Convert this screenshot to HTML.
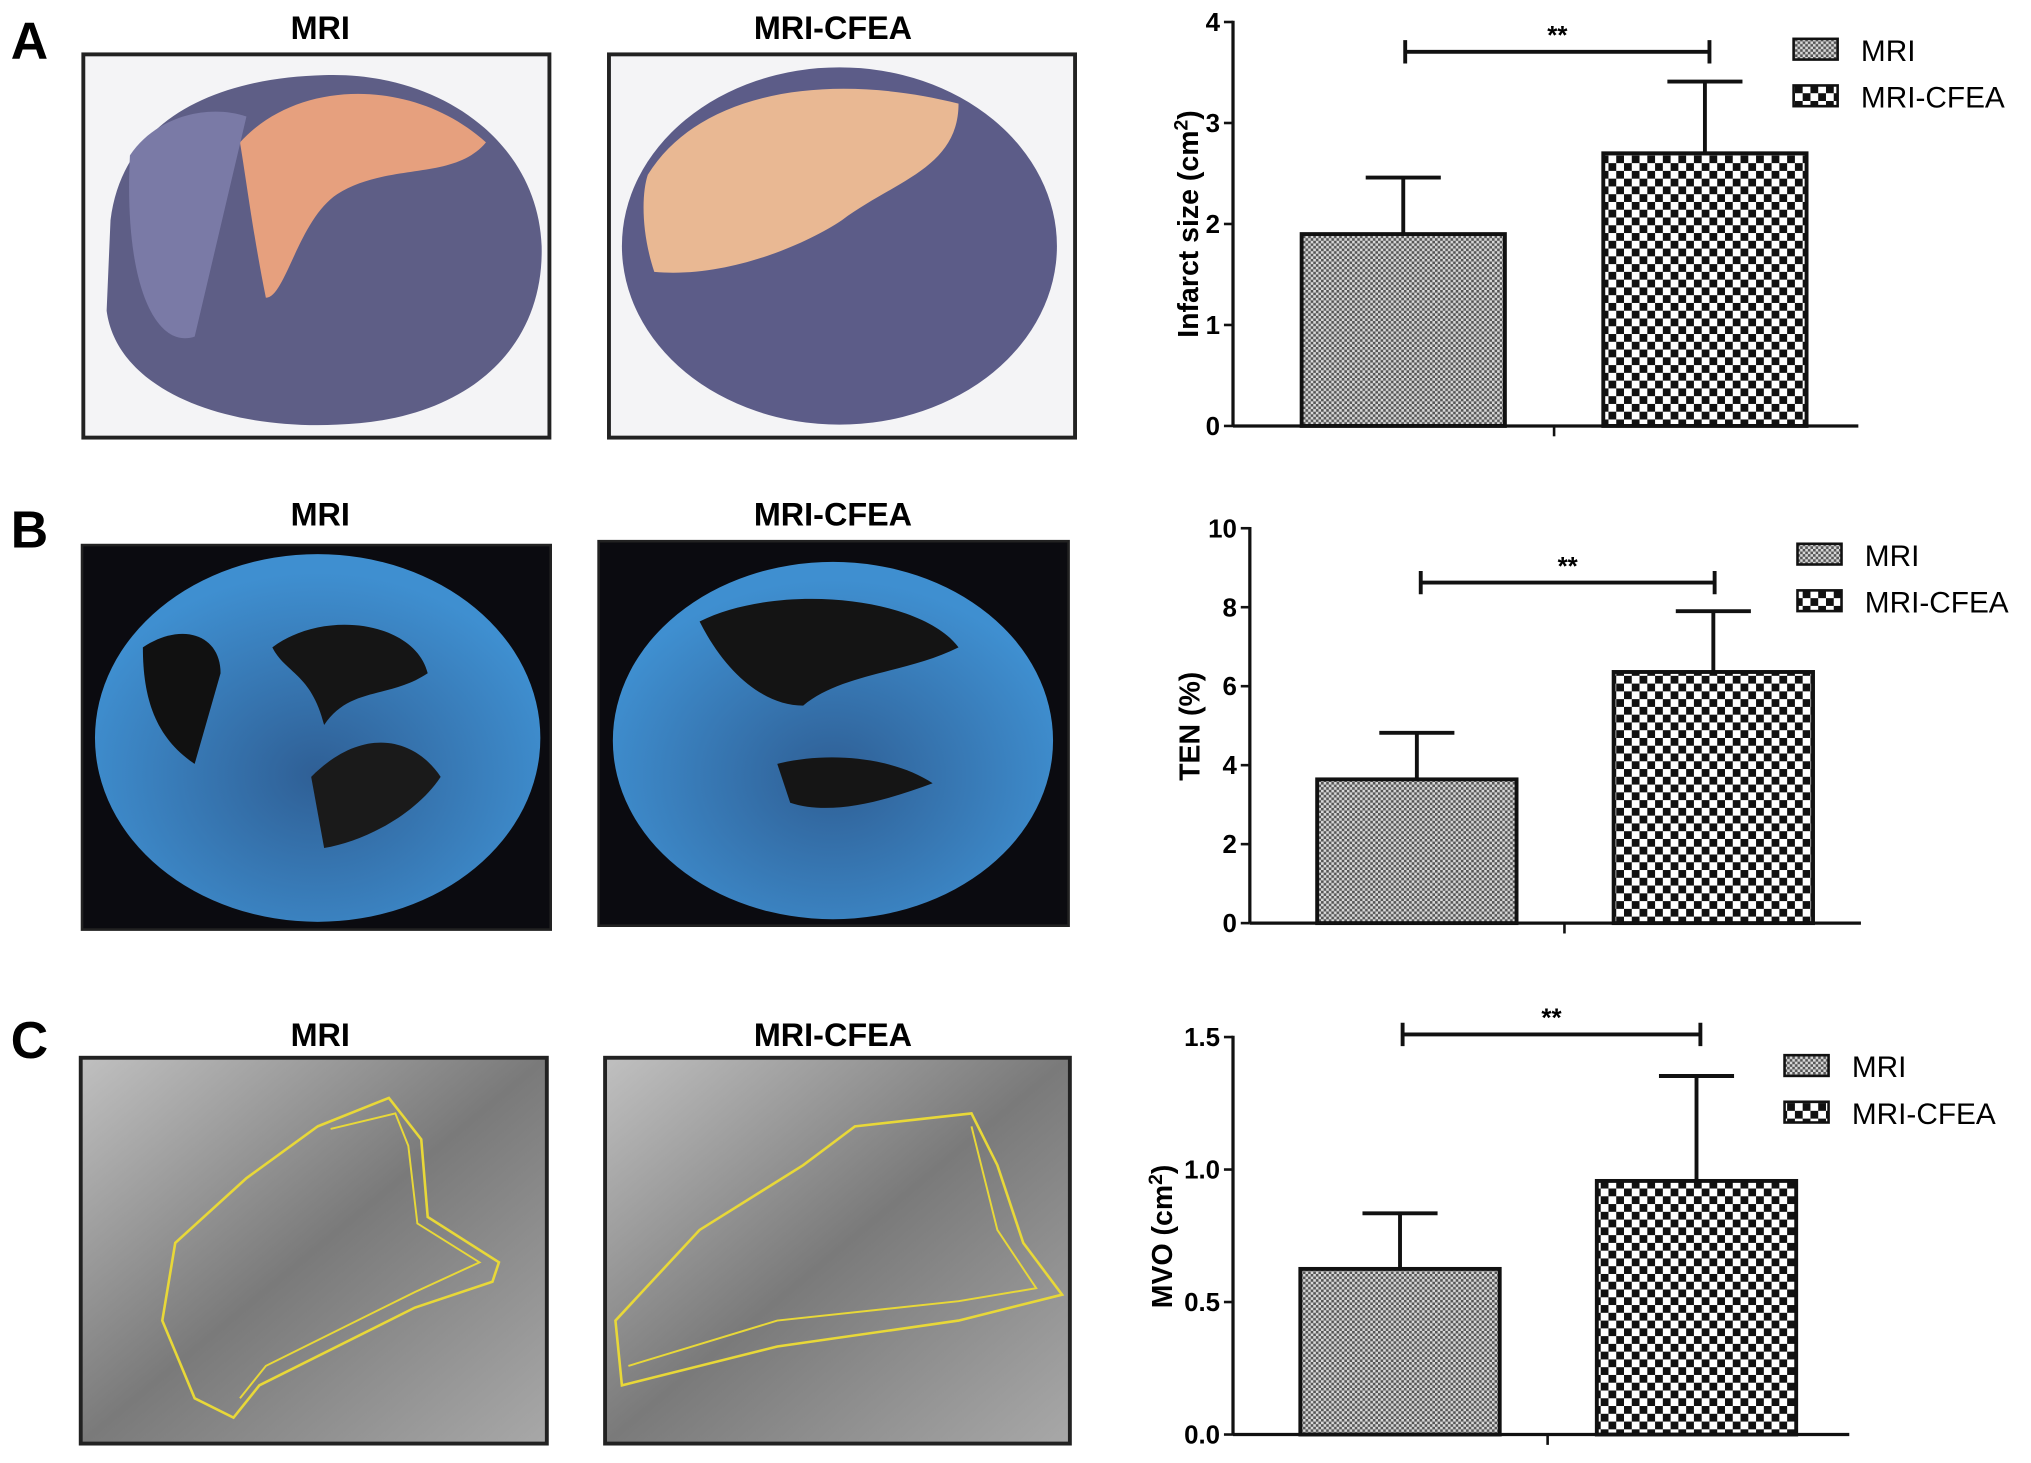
<!DOCTYPE html>
<html><head><meta charset="utf-8"><style>
html,body{margin:0;padding:0;background:#fff}
svg{display:block}
text{font-family:"Liberation Sans",Arial,sans-serif}
</style></head><body>
<svg id="fig" width="2031" height="1463" viewBox="0 0 1568 1130" xmlns="http://www.w3.org/2000/svg">
<defs>
<pattern id="pFine" width="4" height="4" patternUnits="userSpaceOnUse">
<rect width="4" height="4" fill="#d8d8d8"/><rect width="2" height="2" fill="#555"/><rect x="2" y="2" width="2" height="2" fill="#555"/>
</pattern>
<pattern id="pCoarse" width="12" height="12" patternUnits="userSpaceOnUse">
<rect width="12" height="12" fill="#fff"/><rect width="6" height="6" fill="#111"/><rect x="6" y="6" width="6" height="6" fill="#111"/>
</pattern>
<radialGradient id="gBlue" cx="50%" cy="60%" r="55%"><stop offset="0" stop-color="#2f5f95"/><stop offset="1" stop-color="#3f8fd0"/></radialGradient>
<linearGradient id="gGray" x1="0" y1="0" x2="1" y2="1"><stop offset="0" stop-color="#c0c0c0"/><stop offset="0.5" stop-color="#7a7a7a"/><stop offset="1" stop-color="#a8a8a8"/></linearGradient>
</defs>

<g font-weight="bold">
<text x="8" y="45" font-size="40">A</text>
<text x="8" y="423" font-size="40">B</text>
<text x="8" y="817" font-size="40">C</text>
<text x="247" y="30" font-size="25" text-anchor="middle">MRI</text>
<text x="643" y="30" font-size="25" text-anchor="middle">MRI-CFEA</text>
<text x="247" y="406" font-size="25" text-anchor="middle">MRI</text>
<text x="643" y="406" font-size="25" text-anchor="middle">MRI-CFEA</text>
<text x="247" y="808" font-size="25" text-anchor="middle">MRI</text>
<text x="643" y="808" font-size="25" text-anchor="middle">MRI-CFEA</text>
</g>

<g>
<rect x="64" y="42" width="360" height="296" fill="#f4f4f6" stroke="#222" stroke-width="3"/>
<path d="M85,170 C95,90 170,60 250,58 C340,55 415,110 418,190 C420,270 360,325 260,328 C170,332 90,300 82,240 Z" fill="#5e5e86"/>
<path d="M185,110 C230,60 320,60 375,110 C350,140 300,125 260,150 C230,170 220,230 205,230 C195,180 190,140 185,110 Z" fill="#e6a07e"/>
<path d="M100,120 C120,90 160,80 190,90 L150,260 C120,270 95,220 100,120 Z" fill="#7a7aa6"/>
</g>
<g>
<rect x="470" y="42" width="360" height="296" fill="#f4f4f6" stroke="#222" stroke-width="3"/>
<ellipse cx="648" cy="190" rx="168" ry="138" fill="#5c5c88"/>
<path d="M500,135 C540,70 640,55 740,80 C740,130 690,140 650,170 C620,190 560,215 505,210 C495,180 495,150 500,135 Z" fill="#e9b893"/>
</g>

<g>
<rect x="63" y="421" width="362" height="297" fill="#0b0b10" stroke="#222" stroke-width="2"/>
<ellipse cx="245" cy="570" rx="172" ry="142" fill="url(#gBlue)"/>
<path d="M110,500 C140,480 170,490 170,520 L150,590 C120,570 110,540 110,500 Z" fill="#111"/>
<path d="M210,500 C250,470 320,480 330,520 C300,540 270,530 250,560 C240,520 220,520 210,500 Z" fill="#151515"/>
<path d="M240,600 C280,560 320,570 340,600 C320,630 280,650 250,655 Z" fill="#1a1a1a"/>
</g>
<g>
<rect x="462" y="418" width="363" height="297" fill="#0b0b10" stroke="#222" stroke-width="2"/>
<ellipse cx="643" cy="572" rx="170" ry="138" fill="url(#gBlue)"/>
<path d="M540,480 C600,450 710,460 740,500 C700,520 650,520 620,545 C590,545 560,520 540,480 Z" fill="#141414"/>
<path d="M600,590 C640,580 690,585 720,605 C680,620 640,630 610,620 Z" fill="#151515"/>
</g>

<g>
<rect x="62" y="817" width="360" height="298" fill="url(#gGray)" stroke="#222" stroke-width="3"/>
<path d="M245,870 L300,848 L325,880 L330,940 L385,975 L380,990 L320,1010 L200,1070 L180,1095 L150,1080 L125,1020 L135,960 L190,910 Z" fill="none" stroke="#e8d838" stroke-width="2"/>
<path d="M255,872 L305,860 L315,885 L322,945 L370,975 L320,998 L205,1055 L185,1080" fill="none" stroke="#e8d838" stroke-width="1.5"/>
</g>
<g>
<rect x="467" y="817" width="359" height="298" fill="url(#gGray)" stroke="#222" stroke-width="3"/>
<path d="M660,870 L750,860 L770,900 L790,960 L820,1000 L740,1020 L600,1040 L480,1070 L475,1020 L540,950 L620,900 Z" fill="none" stroke="#e8d838" stroke-width="2"/>
<path d="M750,870 L770,950 L800,995 L740,1005 L600,1020 L485,1055" fill="none" stroke="#e8d838" stroke-width="1.5"/>
</g>

<g id="charts"></g>
</svg>
<script>
// Panel A data
const aCategories = ["MRI", "MRI-CFEA"];
const aValues = [1.9, 2.7];
const aErrors = [0.56, 0.71];
const aTicks = [0, 1, 2, 3, 4];
// Panel B data
const bCategories = ["MRI", "MRI-CFEA"];
const bValues = [3.64, 6.36];
const bErrors = [1.18, 1.54];
const bTicks = [0, 2, 4, 6, 8, 10];
// Panel C data
const cCategories = ["MRI", "MRI-CFEA"];
const cValues = [0.625, 0.957];
const cErrors = [0.21, 0.396];
const cTicks = ["0.0", "0.5", "1.0", "1.5"];

const NS = "http://www.w3.org/2000/svg";
const root = document.getElementById("charts");
function mk(tag, attrs, parent, txt) {
  const e = document.createElementNS(NS, tag);
  for (const k in attrs) e.setAttribute(k, attrs[k]);
  if (txt !== undefined) e.textContent = txt;
  (parent || root).appendChild(e);
  return e;
}

function drawChart(p, cats, vals, errs, ticks) {
  const g = mk("g", {});
  
  
  const maxV = parseFloat(ticks[ticks.length - 1]);
  const y = v => p.y0 - (v / maxV) * (p.y0 - p.yTop);
  cats.forEach((c, i) => {
    const x0 = p.barX[i];
    const top = y(vals[i]);
    const et = y(vals[i] + errs[i]);
    const cx = x0 + p.barW / 2;
    const el = mk("line", {x1: cx, y1: top, x2: cx, y2: et, stroke: "#111", "stroke-width": 3}, g);
    
    
    const cap = mk("line", {x1: cx - 29, y1: et, x2: cx + 29, y2: et, stroke: "#111", "stroke-width": 3}, g);
    
    
    const r = mk("rect", {x: x0, y: top, width: p.barW, height: p.y0 - top, fill: i ? "url(#pCoarse)" : "url(#pFine)", stroke: "#111", "stroke-width": 3}, g);
    
    
  });
  const ya = mk("line", {x1: p.ax, y1: p.yTop - 1, x2: p.ax, y2: p.y0, stroke: "#111", "stroke-width": 2.5}, g);
  
  
  const xa = mk("line", {x1: p.ax, y1: p.y0, x2: p.xEnd, y2: p.y0, stroke: "#111", "stroke-width": 2.5}, g);
  
  
  const xt = mk("line", {x1: p.xTick, y1: p.y0, x2: p.xTick, y2: p.y0 + 8, stroke: "#111", "stroke-width": 2}, g);
  
  
  ticks.forEach(t => {
    const yy = y(parseFloat(t));
    const tl = mk("line", {x1: p.ax - 7, y1: yy, x2: p.ax, y2: yy, stroke: "#111", "stroke-width": 2}, g);
    
    
    const tx = mk("text", {x: p.ax - 10, y: yy + 7, "font-size": 20, "font-weight": "bold", "text-anchor": "end"}, g, String(t));
    
    
  });
  const tt = mk("text", {x: 0, y: 0, "font-size": 22, "font-weight": "bold", "text-anchor": "middle", transform: `translate(${p.titleX},${p.titleY}) rotate(-90)`}, g);
  
  
  tt.innerHTML = p.title;
  const sb = mk("path", {d: `M${p.sig[0]},${p.sigY - 9}V${p.sigY + 9}M${p.sig[0]},${p.sigY}H${p.sig[1]}M${p.sig[1]},${p.sigY - 9}V${p.sigY + 9}`, stroke: "#111", "stroke-width": 3, fill: "none"}, g);
  
  
  const st = mk("text", {x: (p.sig[0] + p.sig[1]) / 2, y: p.sigY - 6, "font-size": 20, "font-weight": "bold", "text-anchor": "middle"}, g, "**");
  
  
  cats.forEach((c, i) => {
    const ly = p.legY + i * 36;
    const lb = mk("rect", {x: p.legX, y: ly, width: 34, height: 16, fill: i ? "url(#pCoarse)" : "url(#pFine)", stroke: "#111", "stroke-width": 2}, g);
    
    
    const lt = mk("text", {x: p.legX + 52, y: ly + 17, "font-size": 23}, g, c);
    
    
  });
}

drawChart({name: "a", ax: 952, y0: 329, yTop: 17, xEnd: 1435, xTick: 1200, barX: [1005, 1238], barW: 157,
  title: 'Infarct size (cm<tspan dy="-8" font-size="15">2</tspan><tspan dy="8">)</tspan>', titleX: 925, titleY: 173,
  sig: [1085, 1320], sigY: 40, legX: 1385, legY: 30}, aCategories, aValues, aErrors, aTicks);
drawChart({name: "b", ax: 965, y0: 713, yTop: 408, xEnd: 1437, xTick: 1208, barX: [1017, 1246], barW: 154,
  title: 'TEN (%)', titleX: 926, titleY: 561,
  sig: [1097, 1324], sigY: 450, legX: 1388, legY: 420}, bCategories, bValues, bErrors, bTicks);
drawChart({name: "c", ax: 952, y0: 1108, yTop: 801, xEnd: 1428, xTick: 1195, barX: [1004, 1233], barW: 154,
  title: 'MVO (cm<tspan dy="-8" font-size="15">2</tspan><tspan dy="8">)</tspan>', titleX: 905, titleY: 955,
  sig: [1083, 1313], sigY: 799, legX: 1378, legY: 815}, cCategories, cValues, cErrors, cTicks);
</script>
</body></html>
